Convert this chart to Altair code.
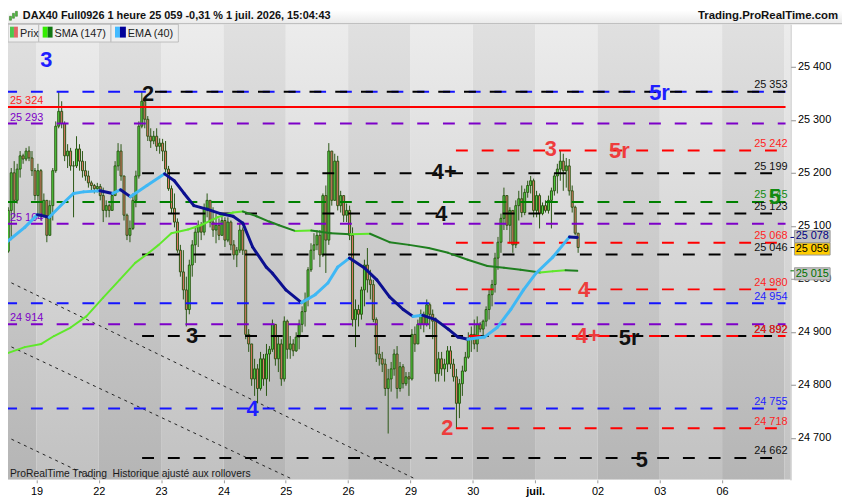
import altair as alt
import pandas as pd

FONT = "Liberation Sans"
TITLE = "DAX40 Full0926 1 heure 25 059 -0,31 % 1 juil. 2026, 15:04:43"
SITE = "Trading.ProRealTime.com"
FOOTER = "ProRealTime Trading\u00a0 Historique ajusté aux rollovers"
DAY_LABELS = ["19", "22", "23", "24", "25", "26", "29", "30", "juil.", "02", "03", "06"]
Y_TICKS = [24700, 24800, 24900, 25000, 25100, 25200, 25300, 25400]

# ---------------- hourly candles (close / high / low), open = previous close
OPEN_FIRST = 25052
C_18 = [25129, 25200, 25148, 25207, 25232, 25226, 25241, 25228, 25204, 25157]
H_18 = [25135, 25209, 25222, 25217, 25241, 25236, 25247, 25250, 25241, 25209]
L_18 = [25049, 25073, 25116, 25142, 25191, 25217, 25222, 25222, 25194, 25148]

C_19 = [25204, 25120, 25148, 25082, 25138, 25204, 25288, 25316, 25293, 25232, 25241, 25213, 25213, 25245, 25222, 25204, 25194, 25181, 25176, 25170, 25174]
H_19 = [25217, 25207, 25161, 25148, 25148, 25209, 25297, 25353, 25335, 25297, 25254, 25247, 25222, 25269, 25254, 25241, 25222, 25204, 25185, 25179, 25181]
L_19 = [25116, 25110, 25116, 25069, 25086, 25110, 25200, 25284, 25284, 25222, 25209, 25204, 25116, 25209, 25204, 25191, 25185, 25172, 25166, 25161, 25163]

C_22 = [25157, 25129, 25138, 25129, 25157, 25213, 25241, 25194, 25120, 25082, 25095, 25148, 25194, 25288, 25335, 25301, 25269, 25260, 25269, 25250, 25256]
H_22 = [25179, 25172, 25148, 25142, 25161, 25222, 25256, 25254, 25194, 25123, 25110, 25161, 25204, 25297, 25353, 25335, 25307, 25284, 25279, 25284, 25265]
L_22 = [25148, 25107, 25116, 25116, 25129, 25157, 25204, 25185, 25110, 25073, 25069, 25092, 25135, 25189, 25284, 25284, 25260, 25247, 25254, 25241, 25236]

C_23 = [25241, 25207, 25170, 25133, 25107, 25054, 25013, 24979, 24942, 25026, 25064, 25088, 25101, 25088, 25133, 25148, 25107, 25092, 25101, 25082, 25110]
H_23 = [25264, 25260, 25213, 25176, 25161, 25114, 25064, 25054, 25004, 25036, 25073, 25097, 25110, 25107, 25142, 25161, 25148, 25135, 25123, 25114, 25123]
L_23 = [25222, 25200, 25166, 25123, 25097, 25049, 25004, 24961, 24910, 24933, 25004, 25030, 25060, 25073, 25082, 25116, 25097, 25079, 25067, 25073, 25082]

C_24 = [25073, 25107, 25064, 25045, 25054, 25092, 25054, 24895, 24877, 24811, 24830, 24793, 24849, 24811, 24858, 24867, 24914, 24849, 24877, 24811, 24920]
H_24 = [25116, 25116, 25110, 25073, 25060, 25105, 25097, 25054, 24905, 24877, 24849, 24839, 24862, 24858, 24877, 24873, 24923, 24914, 24892, 24886, 24929]
L_24 = [25060, 25069, 25054, 25036, 25022, 25049, 25045, 24886, 24862, 24798, 24779, 24765, 24789, 24798, 24779, 24806, 24862, 24836, 24824, 24798, 24806]

C_25 = [24867, 24877, 24864, 24890, 24914, 24938, 24961, 25017, 25054, 25064, 25082, 25045, 25157, 25073, 25241, 25148, 25222, 25138, 25157, 25120, 25129]
H_25 = [24923, 24892, 24886, 24899, 24923, 24948, 24974, 25022, 25067, 25086, 25092, 25092, 25161, 25176, 25256, 25222, 25236, 25232, 25166, 25157, 25142]
L_25 = [24849, 24849, 24854, 24862, 24867, 24899, 24910, 24948, 25013, 25036, 25054, 25022, 25041, 25011, 25064, 25138, 25148, 25129, 25125, 25107, 25107]

C_26 = [25082, 24923, 24942, 24933, 24979, 25026, 24998, 24989, 24923, 24858, 24849, 24839, 24793, 24811, 24830, 24858, 24793, 24834, 24802, 24815, 24811]
H_26 = [25138, 25097, 24961, 24951, 24985, 25036, 25058, 25017, 24998, 24927, 24873, 24862, 24849, 24830, 24843, 24867, 24873, 24843, 24839, 24824, 24824]
L_26 = [25073, 24910, 24871, 24910, 24923, 24948, 24974, 24961, 24918, 24843, 24836, 24824, 24779, 24708, 24787, 24817, 24774, 24787, 24793, 24798, 24779]

C_29 = [24895, 24877, 24914, 24933, 24914, 24951, 24933, 24920, 24821, 24849, 24830, 24839, 24864, 24839, 24815, 24765, 24802, 24826, 24852, 24886, 24895]
H_29 = [24905, 24910, 24923, 24942, 24938, 24961, 24955, 24942, 24927, 24862, 24862, 24849, 24873, 24873, 24849, 24830, 24811, 24836, 24862, 24899, 24910]
L_29 = [24808, 24862, 24877, 24905, 24899, 24910, 24905, 24886, 24806, 24806, 24817, 24806, 24824, 24830, 24806, 24718, 24737, 24779, 24824, 24849, 24862]

C_30 = [24877, 24914, 24905, 24920, 24942, 24970, 24989, 25039, 25069, 25114, 25157, 25101, 25129, 25064, 25138, 25151, 25125, 25163, 25176, 25185, 25129]
H_30 = [24923, 24929, 24918, 24923, 24948, 24979, 24998, 25049, 25079, 25123, 25172, 25157, 25135, 25129, 25148, 25166, 25176, 25170, 25185, 25194, 25189]
L_30 = [24867, 24862, 24899, 24892, 24910, 24923, 24948, 24974, 25017, 25049, 25092, 25092, 25067, 25049, 25058, 25110, 25116, 25120, 25153, 25161, 25116]

C_01 = [25157, 25123, 25138, 25129, 25148, 25166, 25194, 25207, 25222, 25204, 25213, 25166, 25135, 25086, 25059]
H_01 = [25166, 25161, 25144, 25148, 25157, 25172, 25200, 25217, 25242, 25236, 25228, 25226, 25176, 25138, 25086]
L_01 = [25116, 25095, 25120, 25125, 25123, 25095, 25157, 25161, 25185, 25166, 25172, 25157, 25125, 25082, 25049]

# ---------------- indicators (time in trading days from 19 June, value)
SMA_T = [-0.502, -0.188, 0.078, 0.282, 0.549, 0.800, 1.067, 1.334, 1.585, 1.804, 1.961, 2.165, 2.432, 2.636, 2.903, 3.154, 3.311, 3.531, 3.734, 3.891, 4.158, 4.409, 4.723, 5.037, 5.351, 5.665, 5.978, 6.292, 6.606, 6.920, 7.234, 7.501, 7.767, 8.081, 8.285, 8.489, 8.677]
SMA_V = [24858, 24871, 24877, 24892, 24908, 24929, 24964, 24998, 25030, 25049, 25064, 25086, 25093, 25101, 25116, 25125, 25127, 25118, 25108, 25101, 25090, 25091, 25086, 25084, 25085, 25069, 25064, 25058, 25049, 25036, 25024, 25021, 25017, 25012, 25014, 25016, 25015]
EMA_T = [-0.502, -0.188, 0.016, 0.204, 0.439, 0.596, 0.753, 1.020, 1.224, 1.349, 1.506, 1.773, 2.056, 2.212, 2.369, 2.526, 2.746, 2.950, 3.154, 3.311, 3.468, 3.687, 3.782, 4.001, 4.252, 4.472, 4.676, 4.833, 5.021, 5.257, 5.461, 5.665, 5.884, 6.041, 6.198, 6.402, 6.606, 6.763, 6.920, 7.187, 7.391, 7.610, 7.814, 8.018, 8.285, 8.552, 8.677]
EMA_V = [25067, 25097, 25121, 25116, 25144, 25161, 25164, 25166, 25161, 25168, 25155, 25176, 25198, 25185, 25161, 25138, 25131, 25123, 25118, 25105, 25060, 25022, 25011, 24979, 24955, 24970, 24992, 25022, 25039, 25021, 24998, 24966, 24942, 24929, 24931, 24923, 24905, 24890, 24886, 24890, 24908, 24942, 24979, 25011, 25041, 25079, 25078]

# ---------------- dotted trend lines
TREND_T0 = [-0.502, -0.502, -0.502]
TREND_V0 = [24998, 24877, 24703]
TREND_T1 = [6.10, 4.12, 0.96]
TREND_V1 = [24621, 24621, 24621]

# ---------------- horizontal levels
LEVEL_V = [25353, 25353, 25324, 25293, 25242, 25199, 25145, 25123, 25104, 25068, 25046, 24980, 24954, 24914, 24892, 24892, 24755, 24718, 24662]
LEVEL_COLOR = ["blue", "black", "red", "purple", "red", "black", "green", "black", "purple", "red", "black", "red", "blue", "purple", "black", "red", "blue", "red", "black"]
LEVEL_START = [-0.502, 1.695, -0.502, -0.502, 6.73, 1.695, -0.502, 1.695, -0.502, 6.73, 1.695, 6.73, -0.502, -0.502, 1.695, 6.73, -0.502, 6.73, 1.695]
LEVEL_STYLE = ["dash", "dash2", "solid", "dash", "dash", "dash", "dash", "dash", "dash", "dash", "dash", "dash", "dash", "dash", "dash", "dash2", "dash", "dash", "dash"]

RLAB_V = [25353, 25242, 25199, 25145, 25123, 25068, 25046, 24980, 24954, 24892, 24892, 24755, 24718, 24662]
RLAB_C = ["black", "red", "black", "green", "black", "red", "black", "red", "blue", "black", "red", "blue", "red", "black"]
LLAB_V = [25324, 25293, 25104, 24914]
LLAB_C = ["red", "purple", "purple", "purple"]

WAVE_S = ["3", "2", "3", "4", "4+", "4", "3", "5r", "5r", "4", "4+", "5r", "2", "5", "5"]
WAVE_T = [0.157, 1.789, 2.495, 3.468, 6.543, 6.496, 8.254, 9.352, 9.995, 8.787, 8.850, 9.509, 6.590, 9.713, 11.847]
WAVE_V = [25413, 25349, 24892, 24755, 25202, 25123, 25245, 25241, 25350, 24979, 24892, 24888, 24718, 24658, 25155]
WAVE_C = ["blue", "black", "black", "blue", "black", "black", "lred", "lred", "blue", "lred", "lred", "black", "lred", "black", "green"]

TAG_V = [25078, 25059, 25015]
TAG_FILL = ["#c2c2c2", "#ffcc00", "#c2c2c2"]
TAG_INK = ["#000080", "#000000", "#007000"]
TAG_SHIFT = [-1, 1.5, 3]   # small vertical nudges the platform applies to keep tags apart

LINE_COL = {"blue": "#1414ff", "black": "#000000", "red": "#ff0000", "purple": "#7d00c8", "green": "#008000"}
TEXT_COL = {"blue": "#1e1eff", "black": "#111111", "red": "#ff1e1e", "purple": "#7d00c8", "green": "#118a11", "lred": "#ee3c3c"}

# ---------------- scales
W, H = 790, 460
X_DOM = [-0.377, 12.018]
Y_DOM = [24620.6, 25480.4]
xs = alt.Scale(domain=X_DOM, nice=False, zero=False)
ys = alt.Scale(domain=Y_DOM, nice=False, zero=False)

def fmt(v):
    return f"{v // 1000} {v % 1000:03d}"

# candles table
DAYS = [(-1, 11, C_18, H_18, L_18), (0, 0, C_19, H_19, L_19), (1, 0, C_22, H_22, L_22),
        (2, 0, C_23, H_23, L_23), (3, 0, C_24, H_24, L_24), (4, 0, C_25, H_25, L_25),
        (5, 0, C_26, H_26, L_26), (6, 0, C_29, H_29, L_29), (7, 0, C_30, H_30, L_30),
        (8, 0, C_01, H_01, L_01)]
rows = []
prev = OPEN_FIRST
for d, k0, cs, hs, ls in DAYS:
    for k, (c, h, l) in enumerate(zip(cs, hs, ls)):
        o = prev
        rows.append({"t": d + (k0 + k + 0.5) / 21, "o": o, "c": c,
                     "h": max(h, o, c), "l": min(l, o, c)})
        prev = c
candles = pd.DataFrame(rows)

def segs(ts, vs):
    return pd.DataFrame({"t1": ts[:-1], "v1": vs[:-1], "t2": ts[1:], "v2": vs[1:]})

sma = segs(SMA_T, SMA_V)
ema = segs(EMA_T, EMA_V)
trend = pd.DataFrame({"t1": TREND_T0, "v1": TREND_V0, "t2": TREND_T1, "v2": TREND_V1})
levels = pd.DataFrame({"v": LEVEL_V, "col": [LINE_COL[c] for c in LEVEL_COLOR],
                       "t0": LEVEL_START, "style": LEVEL_STYLE})
levels["t1"] = X_DOM[1]
rlab = pd.DataFrame({"v": RLAB_V, "col": [TEXT_COL[c] for c in RLAB_C], "s": [fmt(v) for v in RLAB_V]})
llab = pd.DataFrame({"v": LLAB_V, "col": [TEXT_COL[c] for c in LLAB_C], "s": [fmt(v) for v in LLAB_V]})
waves = pd.DataFrame({"t": WAVE_T, "v": WAVE_V, "s": WAVE_S, "col": [TEXT_COL[c] for c in WAVE_C]})
bands = pd.DataFrame({"d": list(range(-1, 13))})
bands["d2"] = bands["d"] + 1
bands["light"] = bands["d"] % 2 == 0
ONE = pd.DataFrame({"a": [0]})

label_expr = "[" + ",".join(f"'{s}'" for s in DAY_LABELS) + "][datum.value]"
xaxis = alt.Axis(values=list(range(len(DAY_LABELS))), labelExpr=label_expr, title=None, grid=False,
                 domain=False, tickColor="#999999", tickSize=3, labelFontSize=11, labelFont=FONT,
                 labelColor="#000000", labelPadding=3, labelAngle=0, labelOverlap=False, labelFlush=False,
                 labelFontWeight={"condition": {"test": "datum.value == 8", "value": "bold"}, "value": "normal"})
yaxis = alt.Axis(orient="right", values=Y_TICKS, title=None, grid=False,
                 labelExpr="slice(toString(datum.value),0,2) + ' ' + slice(toString(datum.value),2)",
                 domainColor="#b4b4b4", tickColor="#909090", tickSize=5, labelFontSize=11,
                 labelFont=FONT, labelColor="#000000", labelPadding=2, labelOverlap=False, labelFlush=False)

def X(f):
    return alt.X(f, scale=xs, axis=xaxis)

def Y(f):
    return alt.Y(f, scale=ys, axis=yaxis)

def grad(c0, c1):
    return alt.Gradient(gradient="linear", x1=0, y1=0, x2=0, y2=1,
                        stops=[alt.GradientStop(color=c0, offset=0), alt.GradientStop(color=c1, offset=1)])

def prect(x0, x1, y0, y1, **mk):
    return alt.Chart(ONE).mark_rect(**mk).encode(x=alt.value(x0), x2=alt.value(x1), y=alt.value(y0), y2=alt.value(y1))

def ptext(x, y, s, **mk):
    return alt.Chart(ONE).mark_text(font=FONT, **mk).encode(x=alt.value(x), y=alt.value(y), text=alt.value(s))

layers = []
# background day bands
layers.append(alt.Chart(bands).transform_filter("datum.light").mark_rect(clip=True, color=grad("#ececec", "#c1c1c1")).encode(
    x=X("d:Q"), x2="d2:Q", y=alt.value(0), y2=alt.value(H)))
layers.append(alt.Chart(bands).transform_filter("!datum.light").mark_rect(clip=True, color=grad("#e0e0e0", "#b5b5b5")).encode(
    x=X("d:Q"), x2="d2:Q", y=alt.value(0), y2=alt.value(H)))

# dotted trend lines
layers.append(alt.Chart(trend).mark_rule(clip=True, color="#222222", strokeWidth=1, strokeDash=[3, 4]).encode(
    x=X("t1:Q"), y=Y("v1:Q"), x2="t2:Q", y2="v2:Q"))

# candles
WICK = "#2a5614"
layers.append(alt.Chart(candles).mark_rule(clip=True, color=WICK, strokeWidth=1).encode(
    x=X("t:Q"), y=Y("l:Q"), y2="h:Q"))
layers.append(alt.Chart(candles).mark_bar(clip=True, size=2.0, stroke=WICK, strokeWidth=1).encode(
    x=X("t:Q"), y=Y("o:Q"), y2="c:Q",
    fill=alt.condition("datum.c >= datum.o", alt.value("#55d843"), alt.value("#e87a6c"))))

# level lines
for style, extra in [("dash", {"strokeDash": [12, 14]}),
                     ("dash2", {"strokeDash": [12, 14], "strokeDashOffset": 13}),
                     ("solid", {})]:
    layers.append(alt.Chart(levels[levels["style"] == style]).mark_rule(clip=True, strokeWidth=2, **extra).encode(
        x=X("t0:Q"), x2="t1:Q", y=Y("v:Q"), color=alt.Color("col:N", scale=None)))

# left labels
layers.append(alt.Chart(llab).mark_text(font=FONT, fontSize=11, align="left", baseline="alphabetic", dy=-3).encode(
    x=alt.value(2), y=Y("v:Q"), text="s:N", color=alt.Color("col:N", scale=None)))

# SMA / EMA
layers.append(alt.Chart(sma).mark_rule(strokeWidth=2, strokeCap="round").encode(
    x=X("t1:Q"), y=Y("v1:Q"), x2="t2:Q", y2="v2:Q",
    color=alt.condition("datum.v2 >= datum.v1", alt.value("#5fe82a"), alt.value("#1f7f1f"))))
layers.append(alt.Chart(ema).mark_rule(strokeWidth=3, strokeCap="round").encode(
    x=X("t1:Q"), y=Y("v1:Q"), x2="t2:Q", y2="v2:Q",
    color=alt.condition("datum.v2 >= datum.v1", alt.value("#3fb8f5"), alt.value("#0c1090"))))

# right labels
layers.append(alt.Chart(rlab).mark_text(font=FONT, fontSize=11, align="right", baseline="alphabetic", dy=-3.5).encode(
    x=alt.value(787), y=Y("v:Q"), text="s:N", color=alt.Color("col:N", scale=None)))

# wave labels
layers.append(alt.Chart(waves).mark_text(font=FONT, fontSize=22, fontWeight="bold", align="center", baseline="middle").encode(
    x=X("t:Q"), y=Y("v:Q"), text="s:N", color=alt.Color("col:N", scale=None)))

# value tags on the price axis
for v, fill, ink, sh in zip(TAG_V, TAG_FILL, TAG_INK, TAG_SHIFT):
    tdf = pd.DataFrame({"v": [v], "s": [fmt(v)]})
    layers.append(alt.Chart(tdf).mark_rule(strokeWidth=1, color=ink).encode(
        x=alt.value(W), x2=alt.value(W + 4), y=Y("v:Q")))
    layers.append(alt.Chart(tdf).mark_point(shape="M-1,-0.34H1V0.34H-1Z", size=1296, filled=True, opacity=1,
                                            fill=fill, stroke="#9a9a9a", strokeWidth=1, yOffset=sh).encode(
        x=alt.value(812), y=Y("v:Q")))
    layers.append(alt.Chart(tdf).mark_text(font=FONT, fontSize=11, align="center", baseline="middle",
                                           color=ink, yOffset=sh).encode(
        x=alt.value(812), y=Y("v:Q"), text="s:N"))

# footer text
layers.append(ptext(2, 457.5, FOOTER, fontSize=10.4, align="left", baseline="alphabetic", color="#1a1a1a"))

# tabs row
for x0, x1 in [(0, 31), (31, 104), (104, 172)]:
    layers.append(prect(x0, x1, 0, 18, fill="#eeeeee", stroke="#bdbdbd", strokeWidth=1))
for x0, x1, col in [(2, 6, "#4cc74c"), (6, 10, "#e06666"), (35, 40, "#33ee00"), (40, 45, "#117711"),
                    (108, 113, "#44bbff"), (113, 119, "#000099")]:
    layers.append(prect(x0, x1, 2.5, 13.5, fill=col))
layers.append(ptext(12, 9.5, "Prix", fontSize=11, align="left", baseline="middle", color="#222222"))
layers.append(ptext(47, 9.5, "SMA (147)", fontSize=11, align="left", baseline="middle", color="#222222"))
layers.append(ptext(121, 9.5, "EMA (40)", fontSize=11, align="left", baseline="middle", color="#222222"))

# header
layers.append(prect(0, 842, -14, -1, fill=grad("#ffffff", "#eaeaea")))
layers.append(alt.Chart(ONE).mark_rule(color="#b0b0b0", strokeWidth=1).encode(
    x=alt.value(0), x2=alt.value(842), y=alt.value(-0.5)))
for x0, y0, y1 in [(1.5, -8, -4), (4.5, -11, -6), (7.5, -13, -8)]:
    layers.append(prect(x0, x0 + 2, y0, y1, fill="#4cbb3c", stroke="#2c6a1c", strokeWidth=0.5))
layers.append(ptext(15, -8.5, TITLE, fontSize=11, fontWeight="bold", align="left", baseline="middle", color="#111111"))
layers.append(ptext(838, -8.5, SITE, fontSize=11.5, fontWeight="bold", align="right", baseline="middle", color="#111111"))

chart = alt.layer(*layers).properties(
    width=W, height=H,
    padding={"left": 0, "top": 14, "right": 52, "bottom": 18},
    autosize=alt.AutoSizeParams(type="none"),
    background="white",
).configure_view(strokeWidth=0)

chart.save("out.html", embed_options={"renderer": "svg", "actions": False})
